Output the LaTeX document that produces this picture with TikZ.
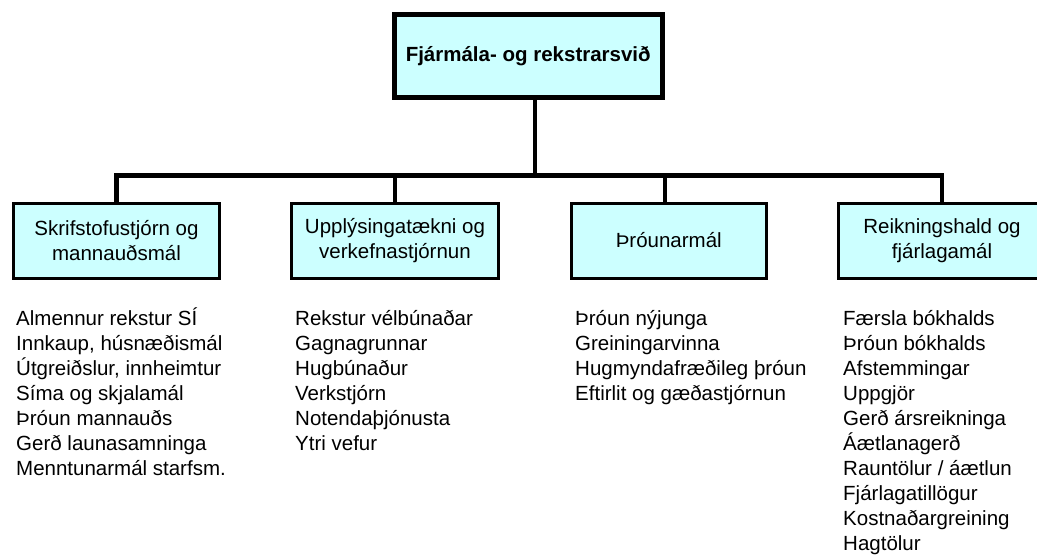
\documentclass[tikz,border=0pt]{standalone}
\usepackage{fontspec}
\setmainfont{Liberation Sans}
\definecolor{boxfill}{RGB}{204,255,255}
\begin{document}
\begin{tikzpicture}[x=1pt,y=-1pt,
  basefont/.style={font=\fontsize{20.5}{25}\selectfont},
  topbox/.style={draw, line width=5pt, fill=boxfill, inner sep=0pt,
    minimum width=268.5pt, minimum height=83.5pt,
    font=\fontsize{20.5}{25}\selectfont\bfseries},
  unitbox/.style={draw, line width=3pt, fill=boxfill, inner sep=0pt,
    minimum height=75pt, align=center, basefont},
  listtext/.style={inner sep=0pt, anchor=base west, basefont},
  bus/.style={line width=4.5pt, line join=miter}]
\clip (0,0) rectangle (1037,558);
\useasboundingbox (0,0) rectangle (1037,558);
\fill[white] (0,0) rectangle (1037,558);
\coordinate (busy) at (0,175.5);

\node[topbox] (top) at (528.25,55.75) {Fjármála- og rekstrarsvið};

\node[unitbox, minimum width=206.5pt] (b1) at (116.5,240.5) {Skrifstofustjórn og\\mannauðsmál};
\node[unitbox, minimum width=207pt] (b2) at (395,240.5) {Upplýsingatækni og\\verkefnastjórnun};
\node[unitbox, minimum width=195.5pt] (b3) at (668.75,240.5) {Þróunarmál};
\node[unitbox, minimum width=207pt] (b4) at (942,240.5) {Reikningshald og\\fjárlagamál};

\draw[bus] (top.south -| 535,0) -- (535,175.5);
\draw[bus] (b1.north) -- (b1.north |- busy) -- (b4.north |- busy) -- (b4.north);
\draw[bus] (b2.north) -- (b2.north |- busy);
\draw[bus] ([xshift=-3.75pt]b3.north) -- ([xshift=-3.75pt]b3.north |- busy);

\node[unitbox, minimum width=206.5pt] at (b1) {Skrifstofustjórn og\\mannauðsmál};
\node[unitbox, minimum width=207pt] at (b2) {Upplýsingatækni og\\verkefnastjórnun};
\node[unitbox, minimum width=195.5pt] at (b3) {Þróunarmál};
\node[unitbox, minimum width=207pt] at (b4) {Reikningshald og\\fjárlagamál};
\node[topbox] at (top) {Fjármála- og rekstrarsvið};

\node[listtext] (l1) at (16,325) {\begin{tabular}[t]{@{}l@{}}Almennur rekstur SÍ\\Innkaup, húsnæðismál\\Útgreiðslur, innheimtur\\Síma og skjalamál\\Þróun mannauðs\\Gerð launasamninga\\Menntunarmál starfsm.\end{tabular}};
\node[listtext] (l2) at (295,325) {\begin{tabular}[t]{@{}l@{}}Rekstur vélbúnaðar\\Gagnagrunnar\\Hugbúnaður\\Verkstjórn\\Notendaþjónusta\\Ytri vefur\end{tabular}};
\node[listtext] (l3) at (575,325) {\begin{tabular}[t]{@{}l@{}}Þróun nýjunga\\Greiningarvinna\\Hugmyndafræðileg þróun\\Eftirlit og gæðastjórnun\end{tabular}};
\node[listtext] (l4) at (843,325) {\begin{tabular}[t]{@{}l@{}}Færsla bókhalds\\Þróun bókhalds\\Afstemmingar\\Uppgjör\\Gerð ársreikninga\\Áætlanagerð\\Rauntölur / áætlun\\Fjárlagatillögur\\Kostnaðargreining\\Hagtölur\end{tabular}};
\end{tikzpicture}
\end{document}
